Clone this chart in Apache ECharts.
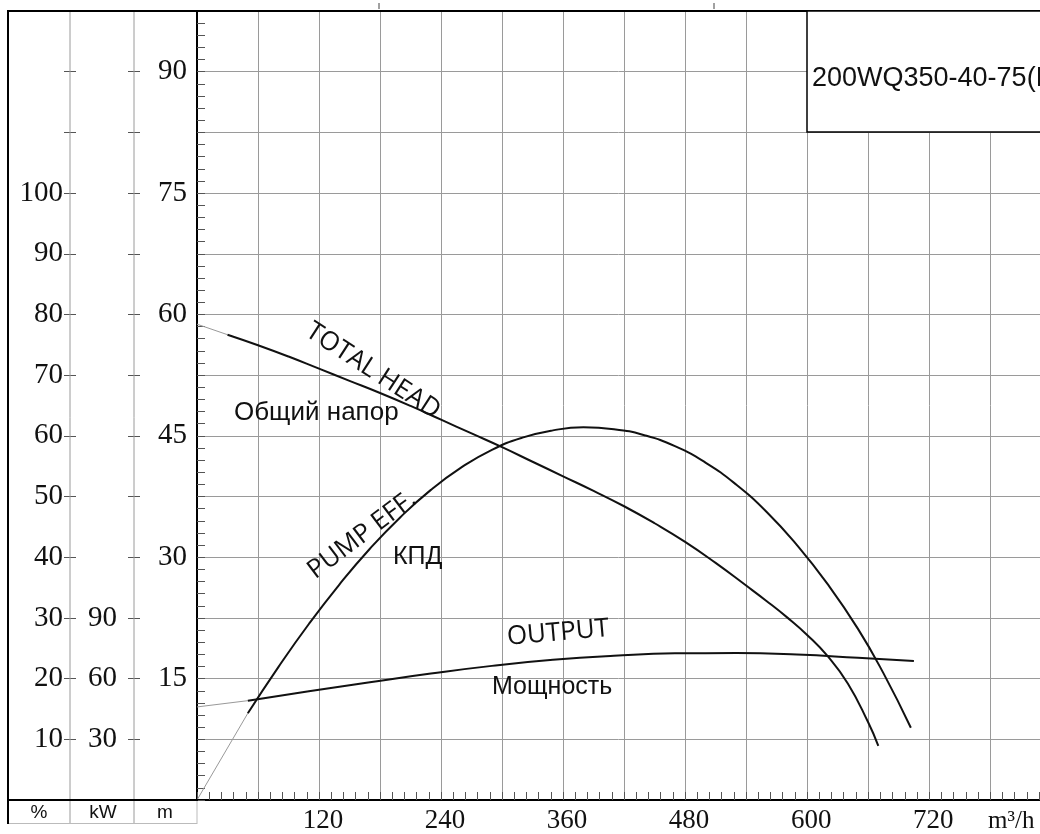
<!DOCTYPE html>
<html>
<head>
<meta charset="utf-8">
<script src="https://cdn.jsdelivr.net/npm/echarts@6/dist/echarts.min.js"></script>
<style>
html,body{margin:0;padding:0;background:#fff;}
#chart{width:1040px;height:834px;}
</style>
</head>
<body>
<div id="chart"></div>
<script>
// ---- data ----
// index 0..1 of each curve is the thin extrapolated lead-in
const flowHead = [0, 30, 60, 90, 120, 150, 180, 210, 240, 270, 300, 330, 360, 390, 420, 450, 480, 510, 540, 560, 580, 600, 620, 640, 660, 670];
const headM    = [58.8, 57.5, 56.2, 54.8, 53.3, 51.8, 50.3, 48.7, 47.0, 45.3, 43.6, 41.8, 40.0, 38.2, 36.3, 34.2, 31.9, 29.3, 26.5, 24.6, 22.6, 20.4, 17.8, 14.4, 9.6, 6.7];

const flowEff = [0, 50, 80, 110, 140, 170, 200, 230, 260, 290, 320, 350, 380, 410, 440, 470, 500, 530, 560, 590, 620, 650, 675, 702];
const effPct  = [0, 14.3, 21.9, 29.0, 35.5, 41.4, 46.6, 51.1, 54.8, 57.7, 59.7, 60.9, 61.4, 61.1, 60.1, 58.3, 55.6, 52.0, 47.5, 42.0, 35.6, 28.2, 20.9, 11.9];

const flowPow = [0, 50, 110, 170, 230, 290, 350, 410, 470, 530, 590, 650, 705];
const powerKW = [46.0, 49.1, 53.7, 58.2, 62.5, 66.3, 69.3, 71.3, 72.5, 72.6, 71.9, 70.3, 68.7];

const xTickLabels   = [120, 240, 360, 480, 600, 720];
const headTickLabels = [15, 30, 45, 60, 75, 90];
const pctTickLabels  = [10, 20, 30, 40, 50, 60, 70, 80, 90, 100];
const kwTickLabels   = [30, 60, 90];
const unitLabels = ['%', 'kW', 'm'];
const xUnit = 'm³/h';
const modelName = '200WQ350-40-75(I)';

// ---- helpers ----
const zip = (xs, ys) => xs.map((x, i) => [x, ys[i]]);
const headData = zip(flowHead, headM);
const effData = zip(flowEff, effPct);
const powData = zip(flowPow, powerKW);

const serif = 'Liberation Serif';
const lineCol = '#111';
const gridCol = '#9a9a9a';

function lbl(list) {
  return v => (list.indexOf(Math.round(v * 1000) / 1000) >= 0 ? String(v) : '');
}

function sideAxis(offset, max, interval, inside, labels, margin) {
  return {
    type: 'value', position: 'left', offset: offset, min: 0, max: max, interval: interval,
    axisLine: { show: false },
    axisTick: { show: true, inside: inside, length: 6, lineStyle: { color: '#555', width: 1 } },
    axisLabel: labels ? { show: true, formatter: lbl(labels), fontFamily: serif, fontSize: 29, color: '#111', margin: margin } : { show: false },
    splitLine: { show: false }
  };
}

const chart = echarts.init(document.getElementById('chart'), null, { renderer: 'canvas' });

const curve = (yAxisIndex, data) => ({ type: 'line', yAxisIndex, data, symbol: 'none', smooth: 0.5, lineStyle: { color: lineCol, width: 2 }, z: 6 });
const thin = (yAxisIndex, data) => ({ type: 'line', yAxisIndex, data, symbol: 'none', lineStyle: { color: '#999', width: 1 }, z: 5 });

const option = {
  animation: false,
  backgroundColor: '#fff',
  grid: { left: 197, top: 11, right: 0, bottom: 34, containLabel: false },
  xAxis: {
    type: 'value', min: 0, max: 829, interval: 60,
    axisLine: { show: true, lineStyle: { color: '#000', width: 2 } },
    axisTick: { show: true, inside: true, length: 8, lineStyle: { color: '#555' } },
    minorTick: { show: true, splitNumber: 5, length: 8, lineStyle: { color: '#555', width: 1 } },
    axisLabel: { formatter: lbl(xTickLabels), fontFamily: serif, fontSize: 27, color: '#111', margin: 7, padding: [0, 0, 0, 8], showMaxLabel: false },
    splitLine: { show: true, lineStyle: { color: gridCol, width: 1 } }
  },
  yAxis: [
    {
      type: 'value', position: 'left', min: 0, max: 97.5, interval: 7.5,
      axisLine: { show: true, lineStyle: { color: '#000', width: 2 } },
      axisTick: { show: true, inside: true, length: 8, lineStyle: { color: '#555' } },
      minorTick: { show: true, splitNumber: 5, length: 8, lineStyle: { color: '#555', width: 1 } },
      axisLabel: { formatter: lbl(headTickLabels), fontFamily: serif, fontSize: 29, color: '#111', margin: 10 },
      splitLine: { show: true, lineStyle: { color: gridCol, width: 1 } }
    },
    sideAxis(127, 130, 10, false, pctTickLabels, 7),
    sideAxis(127, 130, 10, true, null, 0),
    sideAxis(63, 390, 30, false, kwTickLabels, 17),
    sideAxis(63, 390, 30, true, null, 0)
  ],
  series: [
    thin(0, headData.slice(0, 2)),
    curve(0, headData.slice(1)),
    thin(1, effData.slice(0, 2)),
    curve(1, effData.slice(1)),
    thin(3, powData.slice(0, 2)),
    curve(3, powData.slice(1))
  ],
  graphic: [
    // frame of the left scale table
    { type: 'line', z: 50, shape: { x1: 8, y1: 11, x2: 1040, y2: 11 }, style: { stroke: '#000', lineWidth: 2 } },
    { type: 'line', z: 50, shape: { x1: 8, y1: 10, x2: 8, y2: 824 }, style: { stroke: '#000', lineWidth: 2 } },
    { type: 'line', z: 40, shape: { x1: 70, y1: 11, x2: 70, y2: 824 }, style: { stroke: gridCol, lineWidth: 1 } },
    { type: 'line', z: 40, shape: { x1: 134, y1: 11, x2: 134, y2: 824 }, style: { stroke: gridCol, lineWidth: 1 } },
    { type: 'line', z: 40, shape: { x1: 197, y1: 800, x2: 197, y2: 824 }, style: { stroke: '#bbb', lineWidth: 1 } },
    { type: 'line', z: 40, shape: { x1: 8, y1: 823.5, x2: 197, y2: 823.5 }, style: { stroke: '#bbb', lineWidth: 1 } },
    { type: 'line', z: 50, shape: { x1: 8, y1: 800, x2: 198, y2: 800 }, style: { stroke: '#000', lineWidth: 2 } },
    { type: 'line', z: 40, shape: { x1: 379, y1: 3, x2: 379, y2: 9 }, style: { stroke: '#444', lineWidth: 1 } },
    { type: 'line', z: 40, shape: { x1: 714, y1: 3, x2: 714, y2: 9 }, style: { stroke: '#444', lineWidth: 1 } },
    // unit cells
    { type: 'text', z: 60, x: 39, y: 813, style: { text: unitLabels[0], font: '19px "Liberation Sans"', fill: '#111', textAlign: 'center', textVerticalAlign: 'middle' } },
    { type: 'text', z: 60, x: 103, y: 813, style: { text: unitLabels[1], font: '19px "Liberation Sans"', fill: '#111', textAlign: 'center', textVerticalAlign: 'middle' } },
    { type: 'text', z: 60, x: 165, y: 813, style: { text: unitLabels[2], font: '19px "Liberation Sans"', fill: '#111', textAlign: 'center', textVerticalAlign: 'middle' } },
    { type: 'text', z: 60, x: 988, y: 821, style: { text: xUnit, font: '25px "Liberation Serif"', fill: '#111', textAlign: 'left', textVerticalAlign: 'middle' } },
    // model box
    { type: 'rect', z: 70, shape: { x: 807, y: 11, width: 240, height: 121 }, style: { fill: '#fff', stroke: '#000', lineWidth: 1.5 } },
    { type: 'text', z: 71, x: 812, y: 79, style: { text: modelName, font: '27px "Liberation Sans"', fill: '#111', textAlign: 'left', textVerticalAlign: 'middle' } },
    // curve annotations
    { type: 'text', z: 60, x: 373, y: 371, rotation: -33 * Math.PI / 180, style: { text: 'TOTAL HEAD', font: '26px "Open Sans"', fill: '#111', textAlign: 'center', textVerticalAlign: 'middle' } },
    { type: 'text', z: 60, x: 234, y: 413, style: { text: 'Общий напор', font: '26px "Liberation Sans"', fill: '#111', textAlign: 'left', textVerticalAlign: 'middle' } },
    { type: 'text', z: 60, x: 362, y: 535, rotation: 37 * Math.PI / 180, style: { text: 'PUMP EFF.', font: '26px "Open Sans"', fill: '#111', textAlign: 'center', textVerticalAlign: 'middle' } },
    { type: 'text', z: 60, x: 393, y: 557, style: { text: 'КПД', font: '25px "Liberation Sans"', fill: '#111', textAlign: 'left', textVerticalAlign: 'middle' } },
    { type: 'text', z: 60, x: 558, y: 633, rotation: 5 * Math.PI / 180, style: { text: 'OUTPUT', font: '26px "Open Sans"', fill: '#111', textAlign: 'center', textVerticalAlign: 'middle' } },
    { type: 'text', z: 60, x: 492, y: 687, style: { text: 'Мощность', font: '25px "Liberation Sans"', fill: '#111', textAlign: 'left', textVerticalAlign: 'middle' } }
  ]
};
chart.setOption(option);
</script>
</body>
</html>
